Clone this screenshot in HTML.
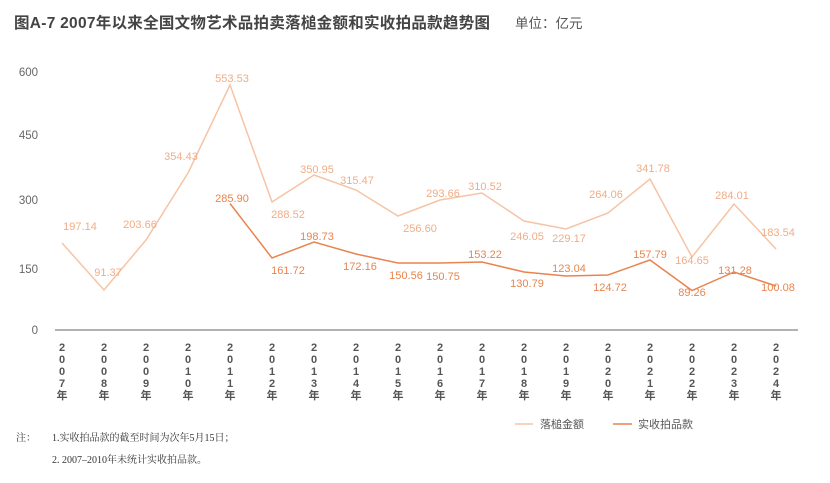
<!DOCTYPE html>
<html><head><meta charset="utf-8"><style>
body{margin:0;background:#fff;width:830px;height:478px;overflow:hidden;font-family:"Liberation Sans","Noto Sans CJK SC",sans-serif}
</style></head><body>
<svg width="830" height="478" xmlns="http://www.w3.org/2000/svg" font-family="Liberation Sans, Noto Sans CJK SC, sans-serif">
<text x="14" y="28" font-size="15.5" fill="#444" font-weight="bold" textLength="476">图A-7  2007年以来全国文物艺术品拍卖落槌金额和实收拍品款趋势图</text>
<text x="515" y="28" font-size="13.5" fill="#555">单位：亿元</text>
<g font-size="11.5" fill="#666" text-anchor="end">
<text x="38" y="76">600</text><text x="38" y="139">450</text><text x="38" y="204">300</text><text x="38" y="273">150</text><text x="38" y="334">0</text>
</g>
<line x1="55" y1="330" x2="798" y2="330" stroke="#999" stroke-width="1.5"/>
<polyline fill="none" stroke="#f6c4a4" stroke-width="1.5" points="62,243 104,290 146,240 188,173 230,85 272,202 314,175 356,190 398,216 440,200 482,193 524,221 566,229 608,213 650,179 692,257 734,204 776,249"/>
<polyline fill="none" stroke="#e8844f" stroke-width="1.5" points="230,203.5 272,258 314,242 356,254 398,263 440,263 482,262 524,272 566,276 608,275 650,260 692,290.5 734,272 776,286"/>
<g font-size="11" fill="#f1ac86" text-anchor="middle">
<text x="80" y="230">197.14</text><text x="108" y="276">91.37</text><text x="140" y="228">203.66</text><text x="181" y="160">354.43</text><text x="232" y="82">553.53</text><text x="288" y="218">288.52</text><text x="317" y="173">350.95</text><text x="357" y="184">315.47</text><text x="420" y="232">256.60</text><text x="443" y="197">293.66</text><text x="485" y="190">310.52</text><text x="527" y="240">246.05</text><text x="569" y="242">229.17</text><text x="606" y="198">264.06</text><text x="653" y="172">341.78</text><text x="692" y="264">164.65</text><text x="732" y="199">284.01</text><text x="778" y="236">183.54</text>
</g>
<g font-size="11" fill="#e8844f" text-anchor="middle">
<text x="232" y="202">285.90</text><text x="288" y="274">161.72</text><text x="317" y="240">198.73</text><text x="360" y="270">172.16</text><text x="406" y="279">150.56</text><text x="443" y="280">150.75</text><text x="485" y="258">153.22</text><text x="527" y="287">130.79</text><text x="569" y="272">123.04</text><text x="610" y="291">124.72</text><text x="650" y="258">157.79</text><text x="692" y="296">89.26</text><text x="735" y="274">131.28</text><text x="778" y="291">100.08</text>
</g>
<g font-size="11" fill="#555" text-anchor="middle" font-weight="bold">
<text x="62" y="351">2</text><text x="62" y="363">0</text><text x="62" y="375">0</text><text x="62" y="387">7</text><text x="62" y="399">年</text>
<text x="104" y="351">2</text><text x="104" y="363">0</text><text x="104" y="375">0</text><text x="104" y="387">8</text><text x="104" y="399">年</text>
<text x="146" y="351">2</text><text x="146" y="363">0</text><text x="146" y="375">0</text><text x="146" y="387">9</text><text x="146" y="399">年</text>
<text x="188" y="351">2</text><text x="188" y="363">0</text><text x="188" y="375">1</text><text x="188" y="387">0</text><text x="188" y="399">年</text>
<text x="230" y="351">2</text><text x="230" y="363">0</text><text x="230" y="375">1</text><text x="230" y="387">1</text><text x="230" y="399">年</text>
<text x="272" y="351">2</text><text x="272" y="363">0</text><text x="272" y="375">1</text><text x="272" y="387">2</text><text x="272" y="399">年</text>
<text x="314" y="351">2</text><text x="314" y="363">0</text><text x="314" y="375">1</text><text x="314" y="387">3</text><text x="314" y="399">年</text>
<text x="356" y="351">2</text><text x="356" y="363">0</text><text x="356" y="375">1</text><text x="356" y="387">4</text><text x="356" y="399">年</text>
<text x="398" y="351">2</text><text x="398" y="363">0</text><text x="398" y="375">1</text><text x="398" y="387">5</text><text x="398" y="399">年</text>
<text x="440" y="351">2</text><text x="440" y="363">0</text><text x="440" y="375">1</text><text x="440" y="387">6</text><text x="440" y="399">年</text>
<text x="482" y="351">2</text><text x="482" y="363">0</text><text x="482" y="375">1</text><text x="482" y="387">7</text><text x="482" y="399">年</text>
<text x="524" y="351">2</text><text x="524" y="363">0</text><text x="524" y="375">1</text><text x="524" y="387">8</text><text x="524" y="399">年</text>
<text x="566" y="351">2</text><text x="566" y="363">0</text><text x="566" y="375">1</text><text x="566" y="387">9</text><text x="566" y="399">年</text>
<text x="608" y="351">2</text><text x="608" y="363">0</text><text x="608" y="375">2</text><text x="608" y="387">0</text><text x="608" y="399">年</text>
<text x="650" y="351">2</text><text x="650" y="363">0</text><text x="650" y="375">2</text><text x="650" y="387">1</text><text x="650" y="399">年</text>
<text x="692" y="351">2</text><text x="692" y="363">0</text><text x="692" y="375">2</text><text x="692" y="387">2</text><text x="692" y="399">年</text>
<text x="734" y="351">2</text><text x="734" y="363">0</text><text x="734" y="375">2</text><text x="734" y="387">3</text><text x="734" y="399">年</text>
<text x="776" y="351">2</text><text x="776" y="363">0</text><text x="776" y="375">2</text><text x="776" y="387">4</text><text x="776" y="399">年</text>
</g>
<line x1="515" y1="424" x2="533" y2="424" stroke="#f6c4a4" stroke-width="1.5"/>
<text x="540" y="428" font-size="11" fill="#555">落槌金额</text>
<line x1="613" y1="424" x2="632" y2="424" stroke="#e8844f" stroke-width="1.5"/>
<text x="638" y="428" font-size="11" fill="#555">实收拍品款</text>
<g font-size="10" fill="#333" font-family="Liberation Serif, Noto Serif CJK SC, serif">
<text x="16" y="441">注：</text>
<text x="52" y="441">1.实收拍品款的截至时间为次年5月15日；</text>
<text x="52" y="463">2. 2007–2010年未统计实收拍品款。</text>
</g>
</svg>
</body></html>
